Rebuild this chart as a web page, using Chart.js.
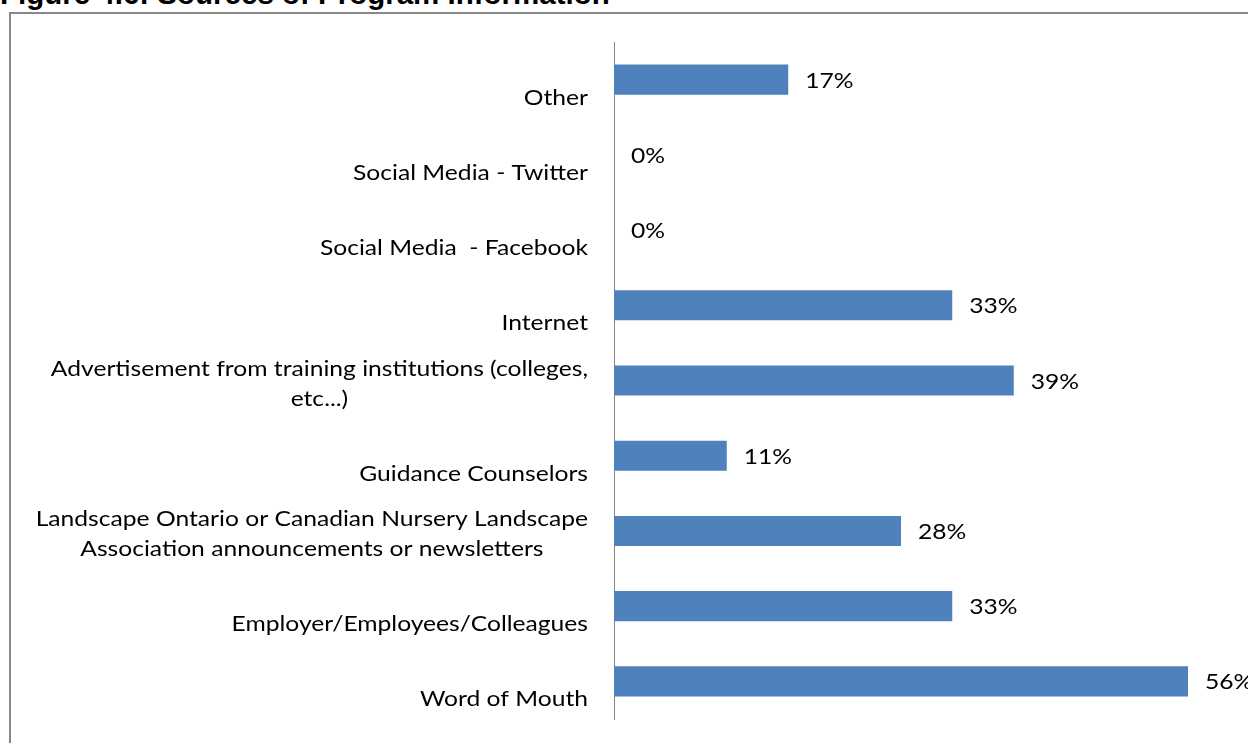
<!DOCTYPE html>
<html><head><meta charset="utf-8">
<script src="https://cdn.jsdelivr.net/npm/chart.js@4"></script>
<style>
html,body{margin:0;padding:0;width:1248px;height:743px;overflow:hidden;background:#fff;}
#title{position:absolute;left:0;top:-21px;font-family:"Liberation Sans",Arial,sans-serif;font-weight:bold;font-size:29.5px;line-height:30px;color:#000;white-space:nowrap;}
#frame{position:absolute;left:9px;top:12px;width:1260px;height:800px;border:2px solid #888;box-sizing:border-box;}
#wrap{position:absolute;left:0;top:0;width:1248px;height:743px;}
</style></head>
<body>
<div id="title">Figure 4.6: Sources of Program Information</div>
<div id="frame"></div>
<div id="wrap"><canvas id="c" width="1248" height="743"></canvas></div>
<script>
const categories = [
  ["Other"],
  ["Social Media - Twitter"],
  ["Social Media  - Facebook"],
  ["Internet"],
  ["Advertisement from training institutions (colleges,", "etc...)"],
  ["Guidance Counselors"],
  ["Landscape Ontario or Canadian Nursery Landscape", "Association announcements or newsletters"],
  ["Employer/Employees/Colleagues"],
  ["Word of Mouth"]
];
const values = [17, 0, 0, 33, 39, 11, 28, 33, 56];
const valueLabels = ["17%", "0%", "0%", "33%", "39%", "11%", "28%", "33%", "56%"];

const FONT = '22px Lato, "Open Sans", sans-serif';
const SX = 1.12;

function drawText(ctx, text, x, y, align) {
  ctx.save();
  ctx.translate(x, y);
  ctx.scale(SX, 1);
  ctx.textAlign = align;
  ctx.fillText(text, 0, 0);
  ctx.restore();
}

const labelPlugin = {
  id: 'customLabels',
  afterDatasetsDraw(chart) {
    const ctx = chart.ctx;
    const yScale = chart.scales.y;
    const meta = chart.getDatasetMeta(0);
    const right = chart.chartArea.left - 26;
    ctx.save();
    ctx.font = FONT;
    ctx.fillStyle = '#000';
    ctx.textBaseline = 'middle';
    categories.forEach((lines, i) => {
      const py = yScale.getPixelForTick(i);
      const w = Math.max(...lines.map(l => ctx.measureText(l).width)) * SX;
      const cx = right - w / 2;
      lines.forEach((l, j) => {
        drawText(ctx, l, cx, py + 18 - (lines.length - 1 - j) * 30, 'center');
      });
    });
    meta.data.forEach((bar, i) => {
      drawText(ctx, valueLabels[i], bar.x + 17, bar.y + 1, 'left');
    });
    ctx.restore();
  }
};

new Chart(document.getElementById('c'), {
  type: 'bar',
  data: {
    labels: categories,
    datasets: [{
      data: values,
      backgroundColor: '#4F81BD',
      borderWidth: 0,
      barPercentage: 0.4,
      categoryPercentage: 1
    }]
  },
  options: {
    indexAxis: 'y',
    responsive: false,
    animation: false,
    layout: { padding: { top: 42, bottom: 24, right: 19, left: 0 } },
    plugins: { legend: { display: false }, tooltip: { enabled: false } },
    scales: {
      x: { display: false, min: 0, max: 60 },
      y: {
        grid: { display: false, drawTicks: false },
        border: { display: true, color: '#868686', width: 1 },
        ticks: { display: false },
        afterFit(s) { s.width = 614; }
      }
    }
  },
  plugins: [labelPlugin]
});
</script>
</body></html>
